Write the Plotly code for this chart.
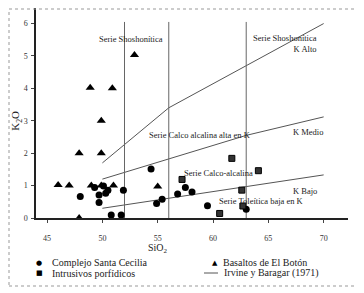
import plotly.graph_objects as go

# Complejo Santa Cecilia (circles)
csc_sio2 = [48.0, 49.3, 50.1, 50.5, 50.3, 49.7, 49.7, 50.8, 51.7, 51.9, 54.4, 55.4, 54.9, 56.8, 57.5, 58.1, 59.5, 63.0]
csc_k2o = [0.66, 0.94, 0.99, 0.86, 0.76, 0.71, 0.48, 0.09, 0.09, 0.86, 1.51, 0.58, 0.45, 0.74, 0.94, 0.80, 0.38, 0.27]

# Intrusivos porfidicos (squares)
ip_sio2 = [57.2, 61.7, 60.6, 64.1, 62.6, 62.7]
ip_k2o = [1.19, 1.84, 0.14, 1.46, 0.86, 0.37]

# Basaltos de El Boton (triangles)
bb_sio2 = [52.9, 48.9, 50.9, 49.9, 47.9, 49.9, 46.0, 47.0, 49.0, 49.9, 51.0, 55.0, 47.9]
bb_k2o = [5.03, 4.02, 4.0, 3.0, 2.0, 2.0, 1.02, 1.0, 1.0, 1.0, 1.0, 0.97, 0.0]

# Irvine y Baragar (1971) boundaries
upper_x = [50, 56, 70]
upper_y = [1.7, 3.4, 6.0]
middle_x = [50, 63, 70]
middle_y = [1.2, 2.55, 3.12]
lower_x = [50, 70]
lower_y = [0.3, 1.33]
vert_x = [52, 56, 63]
vert_top = 6.05

x_ticks = [45, 50, 55, 60, 65, 70]
y_ticks = [0, 1, 2, 3, 4, 5, 6]

SERIF = "Liberation Serif"
PAGE_OFF = 8  # default page margin offsets the figure inside the window
fig = go.Figure()

for xs, ys in [(upper_x, upper_y), (middle_x, middle_y), (lower_x, lower_y)]:
    fig.add_trace(go.Scatter(x=xs, y=ys, mode="lines", line=dict(color="#555", width=1),
                             showlegend=False, hoverinfo="skip"))
for vx in vert_x:
    fig.add_trace(go.Scatter(x=[vx, vx], y=[0, vert_top], mode="lines",
                             line=dict(color="#666", width=1), showlegend=False, hoverinfo="skip"))

fig.add_trace(go.Scatter(x=bb_sio2, y=bb_k2o, mode="markers", name="Basaltos de El Botón",
                         marker=dict(symbol="triangle-up", size=8, color="black"), cliponaxis=False,
                         showlegend=False))
fig.add_trace(go.Scatter(x=csc_sio2, y=csc_k2o, mode="markers", name="Complejo Santa Cecilia",
                         marker=dict(symbol="circle", size=7, color="black"), cliponaxis=False,
                         showlegend=False))
fig.add_trace(go.Scatter(x=ip_sio2, y=ip_k2o, mode="markers", name="Intrusivos porfídicos",
                         marker=dict(symbol="square", size=6, color="#333", line=dict(color="black", width=1)),
                         cliponaxis=False, showlegend=False))

ann = []
def t(x, y, s, size=8.5, xanchor="center", align="center"):
    ann.append(dict(x=x, y=y, text=s, showarrow=False, xanchor=xanchor, yanchor="middle", align=align,
                    font=dict(family=SERIF, size=size, color="#222")))

t(52.6, 5.52, "Serie Shoshonítica")
t(69.6, 5.4, "Serie Shoshonítica<br>K Alto", xanchor="right", align="right")
t(58.8, 2.56, "Serie Calco alcalina alta en K")
t(68.55, 2.65, "K Medio")
t(60.5, 1.38, "Serie Calco-alcalina")
t(68.3, 0.84, "K Bajo")
t(64.4, 0.52, "Serie Toleítica baja en K")

# window pixel -> paper coords (plot area spans window px x 36..348, y 8..218)
def px2paper(px, py):
    return (px - 36) / 312, (218 - py) / 210

for (px, py, s) in [(39, 263, "●"), (39, 273, "■"), (215, 263, "▲")]:
    xp, yp = px2paper(px, py)
    ann.append(dict(x=xp, y=yp, xref="paper", yref="paper", text=s, showarrow=False,
                    xanchor="center", yanchor="middle", font=dict(family="DejaVu Sans", size=7, color="black")))
for (px, py, s) in [(50, 263, "Complejo Santa Cecilia"), (50, 273, "Intrusivos porfídicos"),
                    (221, 263, "Basaltos de El Botón"), (222, 273, "Irvine y Baragar (1971)")]:
    xp, yp = px2paper(px, py)
    ann.append(dict(x=xp, y=yp, xref="paper", yref="paper", text=s, showarrow=False,
                    xanchor="left", yanchor="middle", font=dict(family=SERIF, size=10, color="#222")))

# SiO2 title
xp, yp = px2paper(157, 249)
ann.append(dict(x=55.0, y=yp, xref="x", yref="paper", text="SiO<sub>2</sub>", showarrow=False,
                xanchor="center", yanchor="middle", font=dict(family=SERIF, size=10, color="#222")))
# K2O title
xp, yp = px2paper(16, 120)
ann.append(dict(x=xp, y=3.0, xref="paper", yref="y", text="K<sub>2</sub>O", showarrow=False, textangle=-90,
                xanchor="center", yanchor="middle", font=dict(family=SERIF, size=11, color="#222")))

shapes = []
x0, y0 = px2paper(204, 273)
x1, _ = px2paper(218, 273)
shapes.append(dict(type="line", xref="paper", yref="paper", x0=x0, x1=x1, y0=y0, y1=y0,
                   line=dict(color="#555", width=1)))
bx0, by0 = px2paper(9, 286)
bx1, by1 = px2paper(358, 9)
shapes.append(dict(type="rect", xref="paper", yref="paper", x0=bx0, x1=bx1, y0=by0, y1=by1,
                   line=dict(color="#999", width=1, dash="dot")))
sx, _ = px2paper(360, 0)
shapes.append(dict(type="line", xref="paper", yref="paper", x0=sx, x1=sx, y0=by0, y1=by1,
                   line=dict(color="#bbb", width=2)))

fig.update_layout(
    width=364, height=293,
    margin=dict(l=36 - PAGE_OFF, r=364 - 348 + PAGE_OFF, t=0, b=293 - 210),
    paper_bgcolor="white", plot_bgcolor="white",
    annotations=ann, shapes=shapes,
    xaxis=dict(range=[44, 72.2], tickvals=x_ticks, ticktext=[str(v) for v in x_ticks],
               showgrid=False, zeroline=False, showline=True, linecolor="#222", linewidth=1.5,
               ticks="outside", ticklen=3, tickcolor="#444", ticklabelstandoff=9,
               tickfont=dict(family=SERIF, size=8, color="#333")),
    yaxis=dict(range=[0, 6.48], tickvals=y_ticks, ticktext=[str(v) for v in y_ticks],
               showgrid=False, zeroline=False, showline=True, linecolor="#222", linewidth=1.5,
               ticks="outside", ticklen=3, tickcolor="#444", ticklabelstandoff=2,
               tickfont=dict(family=SERIF, size=8, color="#333")),
)

fig.write_html("out.html")
